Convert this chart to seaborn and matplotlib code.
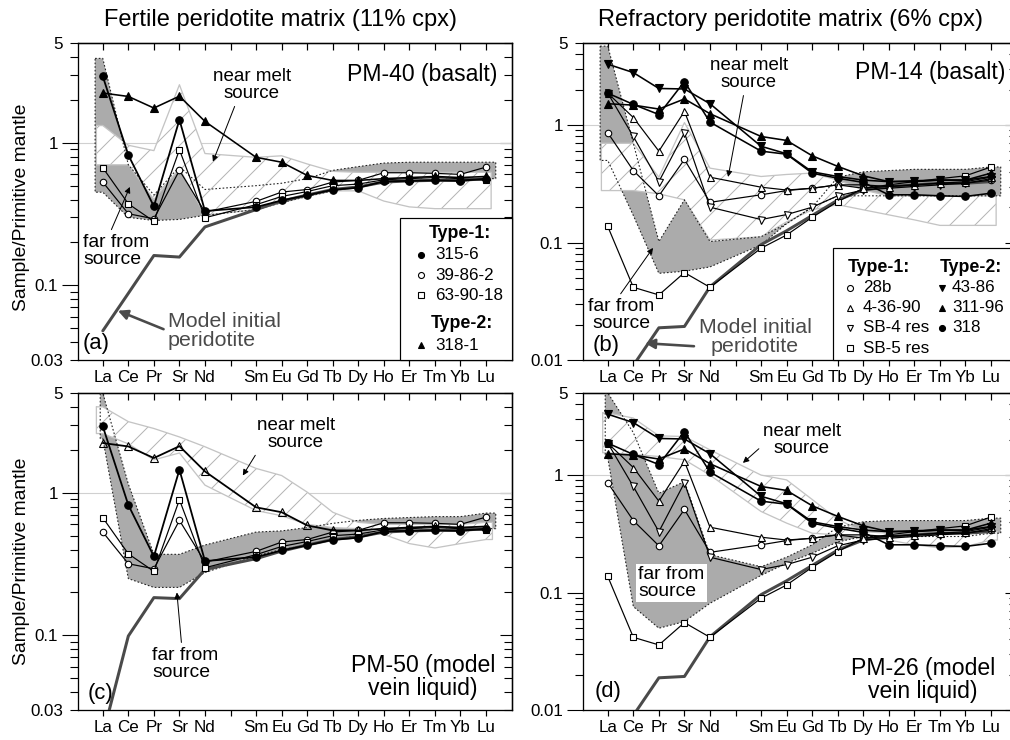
import numpy as np
import matplotlib
matplotlib.use("Agg")
import matplotlib.pyplot as plt
from matplotlib.patches import Rectangle
from matplotlib.ticker import FixedLocator, FixedFormatter, FuncFormatter, NullLocator
import seaborn as sns

# ---------------------------------------------------------------------------
# Abscissa: elements in normalisation order; the blank slot is the Pm gap
ELEMENTS = ["La", "Ce", "Pr", "Sr", "Nd", "", "Sm", "Eu", "Gd", "Tb",
            "Dy", "Ho", "Er", "Tm", "Yb", "Lu"]

# Fertile-matrix samples (panels a, c), sample / primitive mantle
S315_6 = [2.92, 0.82, 0.358, 1.45, 0.332, 0.354, 0.394, 0.428, 0.468, 0.484, 0.536, 0.54, 0.545, 0.54, 0.56]
S39_86_2 = [0.53, 0.318, 0.293, 0.64, 0.327, 0.388, 0.451, 0.47, 0.53, 0.545, 0.616, 0.616, 0.61, 0.60, 0.675]
S63_90_18 = [0.668, 0.373, 0.281, 0.893, 0.298, 0.368, 0.42, 0.455, 0.50, 0.513, 0.55, 0.56, 0.57, 0.56, 0.545]
S318_1 = [2.23, 2.11, 1.75, 2.12, 1.41, 0.79, 0.73, 0.59, 0.544, 0.544, 0.56, 0.57, 0.58, 0.57, 0.58]

# Refractory-matrix samples (panels b, d)
S28B = [0.86, 0.41, 0.25, 0.51, 0.22, 0.255, 0.277, 0.29, 0.31, 0.31, 0.30, 0.31, 0.32, 0.32, 0.34]
S4_36_90 = [1.87, 1.16, 0.60, 1.31, 0.36, 0.296, 0.28, 0.29, 0.31, 0.29, 0.30, 0.31, 0.32, 0.33, 0.36]
SB4_RES = [1.87, 0.80, 0.33, 0.86, 0.20, 0.157, 0.173, 0.20, 0.25, 0.28, 0.29, 0.30, 0.31, 0.32, 0.35]
SB5_RES = [0.137, 0.0416, 0.0358, 0.0555, 0.0416, 0.0895, 0.116, 0.164, 0.223, 0.29, 0.31, 0.33, 0.35, 0.37, 0.44]
S43_86 = [3.3, 2.8, 2.05, 2.03, 1.52, 0.66, 0.57, 0.40, 0.365, 0.34, 0.33, 0.336, 0.34, 0.34, 0.365]
S311_96 = [1.52, 1.48, 1.37, 1.67, 1.25, 0.80, 0.74, 0.548, 0.445, 0.37, 0.33, 0.33, 0.34, 0.34, 0.39]
S318 = [1.87, 1.50, 1.23, 2.35, 1.06, 0.60, 0.565, 0.39, 0.353, 0.325, 0.255, 0.255, 0.25, 0.247, 0.263]

# Model initial peridotite
MODEL_A = [0.048, 0.088, 0.162, 0.158, 0.257, 0.34, 0.39, 0.43, 0.47, 0.49, 0.53, 0.54, 0.545, 0.545, 0.56]
MODEL_C = [0.02, 0.099, 0.184, 0.181, 0.29, 0.345, 0.39, 0.43, 0.47, 0.49, 0.53, 0.54, 0.545, 0.545, 0.56]
MODEL_REF = [0.004, 0.009, 0.0188, 0.0193, 0.042, 0.096, 0.126, 0.17, 0.23, 0.28, 0.30, 0.31, 0.32, 0.32, 0.33]

# Model ranges: "far from source" (grey) and "near melt source" (hatched)
FAR_A_UP = [3.9, 0.70, 0.43, 0.68, 0.47, 0.50, 0.52, 0.56, 0.64, 0.68, 0.72, 0.73, 0.73, 0.73, 0.73]
FAR_A_LO = [0.45, 0.30, 0.285, 0.29, 0.31, 0.34, 0.38, 0.42, 0.46, 0.49, 0.53, 0.54, 0.55, 0.55, 0.56]
NEAR_A_UP = [1.32, 0.96, 0.88, 2.55, 0.84, 0.79, 0.81, 0.71, 0.63, 0.62, 0.62, 0.62, 0.62, 0.62, 0.62]
NEAR_A_LO = [0.70, 0.70, 0.40, 0.66, 0.31, 0.34, 0.38, 0.42, 0.46, 0.46, 0.39, 0.355, 0.345, 0.345, 0.345]

FAR_B_UP = [4.7, 0.70, 0.102, 0.231, 0.102, 0.112, 0.145, 0.20, 0.36, 0.40, 0.41, 0.42, 0.42, 0.42, 0.44]
FAR_B_LO = [0.5, 0.17, 0.0547, 0.057, 0.062, 0.0955, 0.145, 0.20, 0.25, 0.25, 0.25, 0.25, 0.25, 0.25, 0.25]
NEAR_B_UP = [0.70, 0.70, 0.36, 1.05, 0.43, 0.365, 0.38, 0.39, 0.34, 0.28, 0.25, 0.25, 0.25, 0.25, 0.25]
NEAR_B_LO = [0.277, 0.277, 0.26, 0.231, 0.105, 0.112, 0.15, 0.19, 0.21, 0.19, 0.172, 0.156, 0.14, 0.14, 0.14]

FAR_C_UP = [5.0, 1.15, 0.37, 0.37, 0.43, 0.53, 0.54, 0.57, 0.61, 0.64, 0.66, 0.67, 0.68, 0.68, 0.72]
FAR_C_LO = [2.4, 0.25, 0.217, 0.217, 0.276, 0.36, 0.40, 0.43, 0.47, 0.50, 0.53, 0.54, 0.55, 0.55, 0.56]
NEAR_C_UP = [4.0, 3.15, 2.82, 2.46, 2.1, 1.48, 1.32, 1.01, 0.73, 0.62, 0.60, 0.60, 0.60, 0.60, 0.62]
NEAR_C_LO = [2.6, 2.2, 1.7, 1.9, 1.13, 0.75, 0.69, 0.60, 0.57, 0.56, 0.51, 0.44, 0.41, 0.44, 0.47]

FAR_D_UP = [5.0, 2.3, 0.70, 0.88, 0.21, 0.166, 0.20, 0.255, 0.36, 0.40, 0.41, 0.41, 0.41, 0.41, 0.43]
FAR_D_LO = [1.4, 0.076, 0.0497, 0.0566, 0.081, 0.14, 0.178, 0.216, 0.27, 0.30, 0.30, 0.30, 0.30, 0.30, 0.32]
NEAR_D_UP = [3.38, 3.06, 2.16, 2.13, 1.64, 1.0, 0.91, 0.62, 0.42, 0.33, 0.32, 0.32, 0.32, 0.32, 0.33]
NEAR_D_LO = [1.55, 1.5, 1.44, 1.35, 1.0, 0.49, 0.39, 0.32, 0.31, 0.30, 0.28, 0.255, 0.24, 0.246, 0.28]

# ---------------------------------------------------------------------------
DPI = 75
W, H = 1010, 740
STEP = 25.55          # pixels per element slot
XL = (-0.97, 16.0)


def P(px):
    """pixel length -> points"""
    return px * 72.0 / DPI


def FF(x, y):
    """pixel position (from top-left) -> figure fraction"""
    return (x / W, 1.0 - y / H)


sns.set_style("ticks")
plt.rcParams["font.family"] = ["Liberation Sans", "DejaVu Sans"]
plt.rcParams["axes.edgecolor"] = "black"
plt.rcParams["axes.linewidth"] = P(1.3)
plt.rcParams["xtick.color"] = "black"
plt.rcParams["ytick.color"] = "black"
plt.rcParams["text.color"] = "black"
plt.rcParams["hatch.linewidth"] = P(1.0)
plt.rcParams["hatch.color"] = "#b4b4b4"

XPOS = [i for i, e in enumerate(ELEMENTS) if e]

GRAY = "#ababab"
HATCH = "#b4b4b4"
HATCH_EDGE = "#c4c4c4"
MODEL_COLOR = "#4a4a4a"

fig = plt.figure(figsize=(W / DPI, H / DPI), dpi=DPI)
fig.patch.set_facecolor("white")


def make_axes(left, top, bottom):
    width = (XL[1] - XL[0]) * STEP
    return fig.add_axes([left / W, 1 - bottom / H, width / W, (bottom - top) / H])


ax_a = make_axes(78, 43, 360)
ax_b = make_axes(583, 43, 360)
ax_c = make_axes(78, 393, 710)
ax_d = make_axes(583, 393, 710)


def zone_path(upper, lower, pad_l, pad_r):
    xs = [XPOS[0] - pad_l] + XPOS + [XPOS[-1] + pad_r]
    up = [upper[0]] + list(upper) + [upper[-1]]
    lo = [lower[0]] + list(lower) + [lower[-1]]
    return xs, up, lo


def far_zone(ax, upper, lower, pad_l=0.3, pad_r=0.38):
    xs, up, lo = zone_path(upper, lower, pad_l, pad_r)
    ax.fill_between(xs, lo, up, facecolor=GRAY, edgecolor="none", lw=0, zorder=1)
    ox = xs + xs[::-1] + [xs[0]]
    oy = up + lo[::-1] + [up[0]]
    ax.plot(ox, oy, color="#222222", lw=P(1.1), ls=(0, (1.5, 1.8)), zorder=3)


def near_zone(ax, upper, lower, pad_l=0.25, pad_r=0.22):
    xs, up, lo = zone_path(upper, lower, pad_l, pad_r)
    ax.fill_between(xs, lo, up, facecolor="white", edgecolor=HATCH, hatch="/",
                    lw=0, zorder=2)
    ox = xs + xs[::-1] + [xs[0]]
    oy = up + lo[::-1] + [up[0]]
    ax.plot(ox, oy, color=HATCH_EDGE, lw=P(1.3), zorder=2.5)


def series(ax, values, marker, face, ms, lw, z=5, color="black"):
    sns.lineplot(x=XPOS, y=values, ax=ax, color=color, lw=P(lw), marker=marker,
                 markersize=P(ms), markerfacecolor=face, markeredgecolor="black",
                 markeredgewidth=P(1.1), zorder=z, legend=False,
                 estimator=None, errorbar=None)


def model_line(ax, values):
    sns.lineplot(x=XPOS, y=values, ax=ax, color=MODEL_COLOR, lw=P(3), zorder=4,
                 legend=False, estimator=None, errorbar=None)


def style(ax, ymin):
    ax.set_yscale("log")
    ax.set_xlim(*XL)
    ax.set_ylim(ymin, 5)
    ax.set_xlabel("")
    ax.set_ylabel("")
    ax.set_facecolor("white")
    for s in ax.spines.values():
        s.set_linewidth(P(1.3))
        s.set_color("black")
    ax.axhline(1, color="#d0d0d0", lw=P(1.1), zorder=0.5)

    ticks = list(range(len(ELEMENTS)))
    ax.xaxis.set_major_locator(FixedLocator(ticks))
    ax.xaxis.set_major_formatter(FixedFormatter(ELEMENTS))
    ax.xaxis.set_minor_locator(NullLocator())
    ax.tick_params(axis="x", which="major", direction="out", length=P(6), width=P(1.2),
                   pad=P(4), labelsize=P(17), bottom=True, top=False)

    decades = [d for d in (0.01, 0.1, 1.0) if ymin <= d <= 5]
    minors = []
    for e in range(-3, 1):
        for k in range(2, 10):
            v = k * 10.0 ** e
            if ymin - 1e-9 <= v <= 5 + 1e-9:
                minors.append(v)
    ax.yaxis.set_major_locator(FixedLocator(decades))
    ax.yaxis.set_major_formatter(FuncFormatter(lambda v, p: f"{v:g}"))
    ax.yaxis.set_minor_locator(FixedLocator(minors))
    ax.yaxis.set_minor_formatter(FuncFormatter(
        lambda v, p: f"{v:g}" if (np.isclose(v, 5) or np.isclose(v, ymin)) else ""))
    ax.tick_params(axis="y", which="major", direction="out", length=P(16), width=P(1.1),
                   pad=P(4), labelsize=P(17), left=True, right=False)
    ax.tick_params(axis="y", which="minor", direction="out", length=P(8), width=P(1.1),
                   pad=P(7), labelsize=P(17), left=True, right=False)

    top = ax.secondary_xaxis("top")
    top.set_ticks(ticks)
    top.tick_params(axis="x", direction="in", length=P(7), width=P(1.2),
                    labeltop=False, labelbottom=False)
    top.spines["top"].set_linewidth(P(1.3))

    right = ax.secondary_yaxis("right")
    right.set_ticks(decades)
    right.set_ticks(minors, minor=True)
    right.tick_params(axis="y", which="major", direction="in", length=P(12),
                      width=P(1.1), labelright=False, labelleft=False)
    right.tick_params(axis="y", which="minor", direction="in", length=P(8),
                      width=P(1.1), labelright=False, labelleft=False)
    right.spines["right"].set_linewidth(P(1.3))


def ftext(ax, x, y, s, size, **kw):
    kw.setdefault("ha", "center")
    kw.setdefault("va", "center")
    kw.setdefault("zorder", 12)
    return ax.text(*FF(x, y), s, transform=fig.transFigure, fontsize=P(size),
                   clip_on=False, **kw)


def arrow_label(ax, s, tip, at, size, relpos, ha="center", color="black",
                lw=1.0, head=12, **kw):
    ax.annotate(s, xy=tip, xycoords="data", xytext=FF(*at),
                textcoords="figure fraction", ha=ha, va="center",
                multialignment=ha if ha != "right" else "right",
                fontsize=P(size), color=color, linespacing=1.0, zorder=12,
                annotation_clip=False,
                arrowprops=dict(arrowstyle="-|>", color=color, lw=P(lw),
                                shrinkA=P(2), shrinkB=0, mutation_scale=P(head),
                                relpos=relpos),
                **kw)


def legend_marker(ax, x, y, marker, face, ms):
    ax.plot([FF(x, y)[0]], [FF(x, y)[1]], transform=fig.transFigure, ls="none",
            marker=marker, markersize=P(ms), markerfacecolor=face,
            markeredgecolor="black", markeredgewidth=P(1.1), clip_on=False, zorder=12)


def legend_box(ax, left, top, right, bottom):
    x0, y0 = FF(left, bottom)
    rect = Rectangle((x0, y0), (right - left) / W, (bottom - top) / H,
                     transform=fig.transFigure, facecolor="white", edgecolor="black",
                     lw=P(1.2), zorder=11, clip_on=False)
    ax.add_patch(rect)


# ---------------------------------------------------------------- panel (a)
ax = ax_a
far_zone(ax, FAR_A_UP, FAR_A_LO, 0.3, 0.38)
near_zone(ax, NEAR_A_UP, NEAR_A_LO, 0.25, 0.2)
model_line(ax, MODEL_A)
series(ax, S39_86_2, "o", "white", 6.5, 1.2)
series(ax, S63_90_18, "s", "white", 6.5, 1.2)
series(ax, S315_6, "o", "black", 7.5, 1.8)
series(ax, S318_1, "^", "black", 8, 1.6, z=6)
style(ax, 0.03)

# ---------------------------------------------------------------- panel (b)
ax = ax_b
far_zone(ax, FAR_B_UP, FAR_B_LO, 0.3, 0.38)
near_zone(ax, NEAR_B_UP, NEAR_B_LO, 0.25, 0.2)
model_line(ax, MODEL_REF)
series(ax, SB5_RES, "s", "white", 6.5, 1.2)
series(ax, S28B, "o", "white", 6.5, 1.2)
series(ax, SB4_RES, "v", "white", 7, 1.2)
series(ax, S4_36_90, "^", "white", 7, 1.2)
series(ax, S318, "o", "black", 7.5, 1.6, z=6)
series(ax, S311_96, "^", "black", 8, 1.6, z=6)
series(ax, S43_86, "v", "black", 8, 1.6, z=6)
style(ax, 0.01)

# ---------------------------------------------------------------- panel (c)
ax = ax_c
far_zone(ax, FAR_C_UP, FAR_C_LO, 0.1, 0.38)
near_zone(ax, NEAR_C_UP, NEAR_C_LO, 0.25, 0.25)
model_line(ax, MODEL_C)
series(ax, S39_86_2, "o", "white", 6.5, 1.2)
series(ax, S63_90_18, "s", "white", 6.5, 1.2)
series(ax, S315_6, "o", "black", 7.5, 1.8)
series(ax, S318_1, "^", "none", 8, 1.8, z=6)
style(ax, 0.03)

# ---------------------------------------------------------------- panel (d)
ax = ax_d
far_zone(ax, FAR_D_UP, FAR_D_LO, 0.1, 0.38)
near_zone(ax, NEAR_D_UP, NEAR_D_LO, 0.2, 0.25)
model_line(ax, MODEL_REF)
series(ax, SB5_RES, "s", "white", 6.5, 1.2)
series(ax, S28B, "o", "white", 6.5, 1.2)
series(ax, SB4_RES, "v", "white", 7, 1.2)
series(ax, S4_36_90, "^", "white", 7, 1.2)
series(ax, S318, "o", "black", 7.5, 1.6, z=6)
series(ax, S311_96, "^", "black", 8, 1.6, z=6)
series(ax, S43_86, "v", "black", 8, 1.6, z=6)
style(ax, 0.01)

# ---------------------------------------------------------------- titles
fig.text(*FF(281, 20), "Fertile peridotite matrix (11% cpx)", ha="center", va="center",
         fontsize=P(23.6))
fig.text(*FF(790, 20), "Refractory peridotite matrix (6% cpx)", ha="center", va="center",
         fontsize=P(23.6))
fig.text(*FF(22, 207), "Sample/Primitive mantle", rotation=90, ha="center", va="center",
         fontsize=P(19.2))
fig.text(*FF(22, 561), "Sample/Primitive mantle", rotation=90, ha="center", va="center",
         fontsize=P(19.2))

# ---------------------------------------------------------------- annotations (a)
ax = ax_a
ftext(ax, 497, 75, "PM-40 (basalt)", 23, ha="right")
ftext(ax, 83, 343, "(a)", 22, ha="left")
arrow_label(ax, "near melt\nsource", (4.31, 0.736), (252, 85), 18.8, (0.3, 0.0))
arrow_label(ax, "far from\nsource", (1.06, 0.49), (83, 251), 19.2, (0.4, 1.0), ha="left")
arrow_label(ax, "Model initial\nperidotite", (0.59, 0.0665), (168, 331), 21.4, (0.0, 0.5),
            ha="left", color=MODEL_COLOR, lw=2.6, head=20)
legend_box(ax, 400, 218, 512, 360)
ftext(ax, 460, 233, "Type-1:", 17.8, weight="bold")
ftext(ax, 462, 323, "Type-2:", 17.8, weight="bold")
for yy, lab, mk, fc in [(255, "315-6", "o", "black"), (275, "39-86-2", "o", "white"),
                        (295, "63-90-18", "s", "white"), (345, "318-1", "^", "black")]:
    legend_marker(ax, 421, yy, mk, fc, 6)
    ftext(ax, 435, yy, lab, 17, ha="left")

# ---------------------------------------------------------------- annotations (b)
ax = ax_b
ftext(ax, 1005, 73, "PM-14 (basalt)", 23, ha="right")
ftext(ax, 593, 345, "(b)", 22, ha="left")
arrow_label(ax, "near melt\nsource", (4.71, 0.362), (749, 74), 18.8, (0.44, 0.0))
arrow_label(ax, "far from\nsource", (1.77, 0.09), (621, 315), 19.2, (0.45, 1.0))
arrow_label(ax, "Model initial\nperidotite", (1.46, 0.0139), (755, 337), 21.4, (0.0, 0.25),
            color=MODEL_COLOR, lw=2.6, head=20)
legend_box(ax, 833, 248, 1030, 360)
ftext(ax, 848, 267, "Type-1:", 17.8, weight="bold", ha="left")
ftext(ax, 940, 267, "Type-2:", 17.8, weight="bold", ha="left")
for yy, lab, mk, fc in [(288, "28b", "o", "white"), (308, "4-36-90", "^", "white"),
                        (328, "SB-4 res", "v", "white"), (348, "SB-5 res", "s", "white")]:
    legend_marker(ax, 850, yy, mk, fc, 6)
    ftext(ax, 863, yy, lab, 17, ha="left")
for yy, lab, mk, fc in [(288, "43-86", "v", "black"), (308, "311-96", "^", "black"),
                        (328, "318", "o", "black")]:
    legend_marker(ax, 942, yy, mk, fc, 6)
    ftext(ax, 952, yy, lab, 17, ha="left")

# ---------------------------------------------------------------- annotations (c)
ax = ax_c
ftext(ax, 423, 677, "PM-50 (model\nvein liquid)", 23, linespacing=1.0)
ftext(ax, 88, 694, "(c)", 22, ha="left")
arrow_label(ax, "near melt\nsource", (5.48, 1.32), (296, 434), 18.8, (0.08, 0.25))
arrow_label(ax, "far from\nsource", (2.9, 0.2), (152, 664), 19.2, (0.45, 1.0), ha="left")

# ---------------------------------------------------------------- annotations (d)
ax = ax_d
ftext(ax, 923, 680, "PM-26 (model\nvein liquid)", 23, linespacing=1.0)
ftext(ax, 595, 692, "(d)", 22, ha="left")
arrow_label(ax, "near melt\nsource", (5.29, 1.27), (802, 440), 18.8, (0.0, 0.35))
ftext(ax, 638, 583, "far from\nsource", 19.2, ha="left", linespacing=1.0,
      bbox=dict(boxstyle="square,pad=0.12", facecolor="white", edgecolor="none"))

fig.savefig("out.png", dpi=DPI, facecolor="white")
